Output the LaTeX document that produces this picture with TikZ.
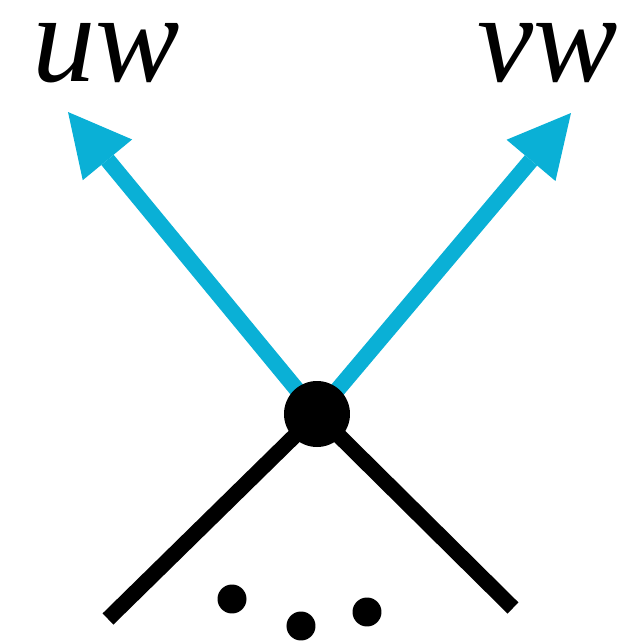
\documentclass[tikz,border=0pt]{standalone}
\usepackage{fontspec}
\setmainfont{Liberation Serif}
\usetikzlibrary{arrows.meta}
\definecolor{edgeblue}{RGB}{10,176,214}
\tikzset{
  bluearrow/.style={draw=edgeblue, line width=0.16cm, -{Triangle[length=0.62cm,width=0.64cm,line width=0pt]}, fill=edgeblue},
  blackedge/.style={draw=black, line width=0.156cm},
  bigdot/.style={circle, fill=black, inner sep=0pt, minimum size=0.66cm},
  smalldot/.style={circle, fill=black, inner sep=0pt, minimum size=0.29cm},
  lbl/.style={font=\fontsize{36}{40}\selectfont\itshape, inner sep=0pt, anchor=base}
}
\begin{document}
\begin{tikzpicture}
\useasboundingbox (0,0) rectangle (6.31,6.43);
\coordinate (c) at (3.17,2.29);
\coordinate (ul) at (0.68,5.31);
\coordinate (ur) at (5.71,5.30);
\coordinate (bl) at (1.08,0.24);
\coordinate (br) at (5.13,0.35);
\draw[blackedge] (c) -- (bl);
\draw[blackedge] (c) -- (br);
\draw[bluearrow] (c) -- (ul);
\draw[bluearrow] (c) -- (ur);
\node[bigdot] (cdot) at (c) {};
\node[smalldot] (d1) at (2.32,0.44) {};
\node[smalldot] (d2) at (3.01,0.17) {};
\node[smalldot] (d3) at (3.67,0.31) {};
\node[lbl] (luw) at (1.06,5.62) {uw};
\node[lbl] (lvw) at (5.48,5.62) {vw};
\end{tikzpicture}
\end{document}
